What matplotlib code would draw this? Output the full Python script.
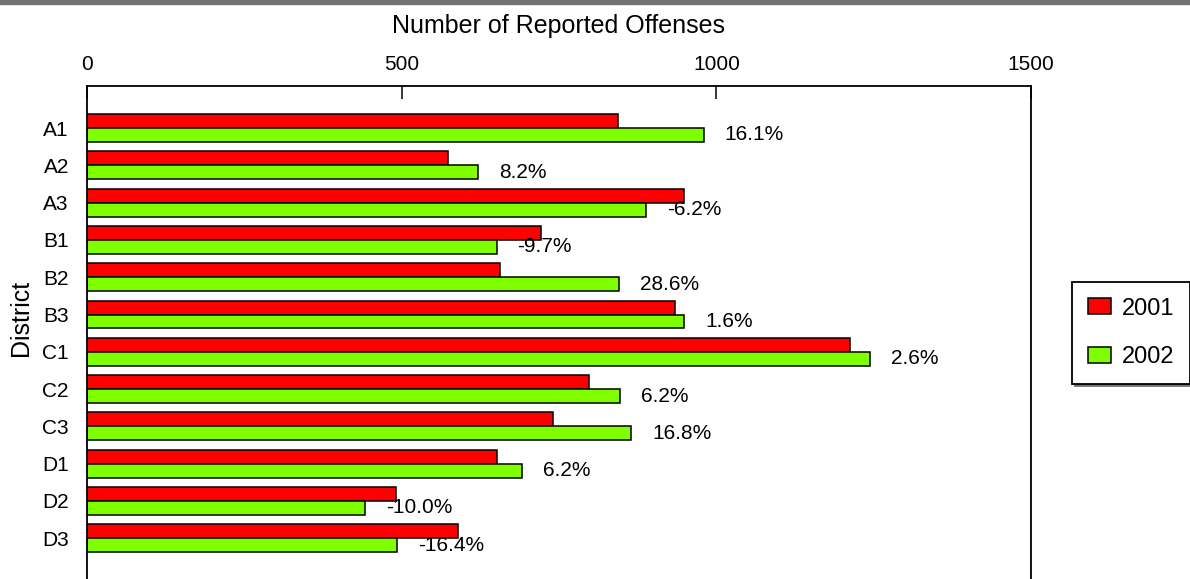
import numpy as np
import matplotlib
matplotlib.use("Agg")
from matplotlib import pyplot as plt
from matplotlib.patches import Rectangle

districts = ["A1", "A2", "A3", "B1", "B2", "B3", "C1", "C2", "C3", "D1", "D2", "D3"]
offenses_2001 = [844, 574, 948, 721, 657, 934, 1212, 798, 741, 651, 491, 590]
offenses_2002 = [980, 621, 889, 651, 845, 949, 1244, 847, 865, 691, 442, 493]
change_labels = ["16.1%", "8.2%", "-6.2%", "-9.7%", "28.6%", "1.6%",
                 "2.6%", "6.2%", "16.8%", "6.2%", "-10.0%", "-16.4%"]
x_ticks = [0, 500, 1000, 1500]

plt.rcParams['font.family'] = ['Liberation Sans', 'DejaVu Sans']

W, H = 1190, 579
fig = plt.figure(figsize=(W / 100, H / 100), dpi=100)

# axes placed in pixel terms: left 87, right 1031, top 86, bottom runs off the figure
left, right, top, bottom = 87, 1031, 86, 600
ax = fig.add_axes([left / W, (H - bottom) / H, (right - left) / W, (bottom - top) / H])

red = '#ff0000'
green = '#80ff00'
bh = 0.375
y = np.arange(len(districts))
ax.barh(y - bh / 2, offenses_2001, height=bh, color=red, edgecolor='black', lw=1.1, label='2001')
ax.barh(y + bh / 2, offenses_2002, height=bh, color=green, edgecolor='black', lw=1.1, label='2002')

for yi, v, lab in zip(y, offenses_2002, change_labels):
    ax.annotate(lab, (v, yi + bh / 2), xytext=(15, 0), textcoords='offset points',
                va='center', ha='left', fontsize=15)

# pixel -> data mapping on y: A1 centre at 128px, 37.3px per category
ax.set_ylim((bottom - 128) / 37.3, (top - 128) / 37.3)
ax.set_xlim(0, 1500)
ax.set_xticks(x_ticks)
ax.set_xticklabels([str(t) for t in x_ticks])
ax.xaxis.tick_top()
ax.tick_params(axis='x', direction='in', length=9.5, width=1.1, pad=9, labelsize=15)
ax.set_yticks(y)
ax.set_yticklabels(districts)
ax.tick_params(axis='y', length=0, pad=13, labelsize=15)
for s in ax.spines.values():
    s.set_linewidth(1.3)

ax.set_xlabel("Number of Reported Offenses", fontsize=18)
ax.xaxis.set_label_position('top')
ax.xaxis.set_label_coords(559 / W, 1 - 33 / H, transform=fig.transFigure)
ax.set_ylabel("District", fontsize=18)
ax.yaxis.set_label_coords(33 / W, 1 - 318 / H, transform=fig.transFigure)

leg = fig.legend(loc='upper left', bbox_to_anchor=(1072 / W, 1 - 282 / H),
                 bbox_transform=fig.transFigure, borderaxespad=0, fontsize=17,
                 frameon=True, fancybox=False, shadow={'color': '#737373', 'alpha': 1},
                 handlelength=1.0, handleheight=0.65, handletextpad=0.45,
                 labelspacing=1.12, borderpad=0.66)
leg.get_frame().set_edgecolor('black')
leg.get_frame().set_linewidth(1.3)

# grey band across the top edge
fig.patches.append(Rectangle((0, 1 - 4 / H), 1, 4 / H, transform=fig.transFigure,
                             color='#737373', zorder=10))

fig.savefig("out.png", dpi=100)
